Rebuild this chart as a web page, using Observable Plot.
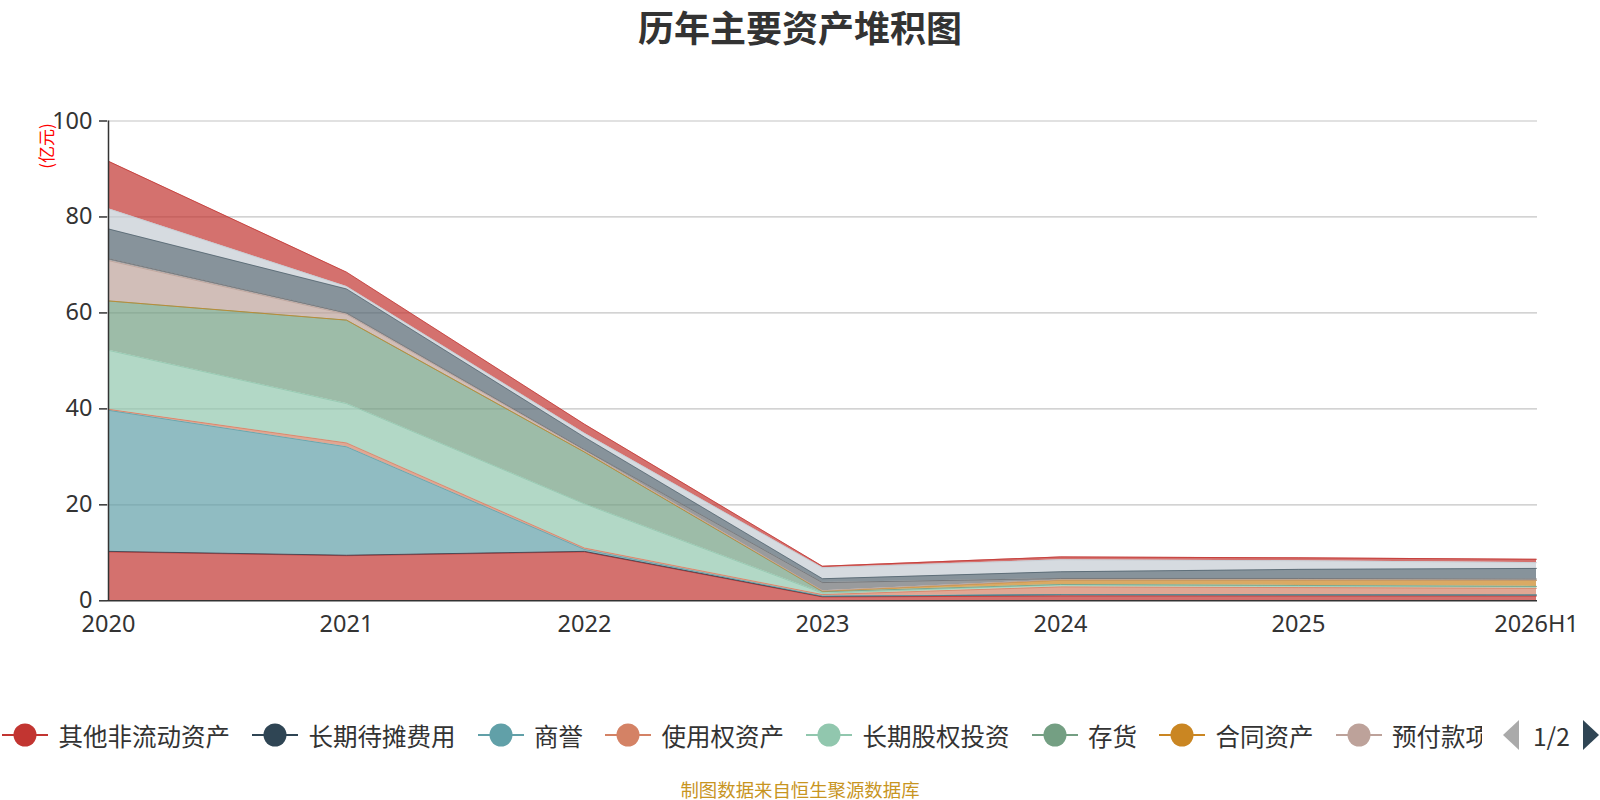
<!DOCTYPE html>
<html>
<head>
<meta charset="utf-8">
<script src="https://cdn.jsdelivr.net/npm/d3@7"></script>
<script src="https://cdn.jsdelivr.net/npm/@observablehq/plot@0.6"></script>
<style>
  body { margin: 0; background: #fff; font-family: "Noto Sans CJK SC", "Noto Sans", sans-serif; color: #333; }
  #wrap { position: relative; width: 1600px; height: 800px; overflow: hidden; }
  #title { position: absolute; left: 0; top: 0; width: 1600px; height: 52px; line-height: 52px; text-align: center; font-size: 36px; font-weight: bold; color: #333; }
  #chart { position: absolute; left: 0; top: 55px; }
  #unit { position: absolute; left: 45px; top: 146px; transform: translate(-50%, -50%) rotate(-90deg); color: #f00; font-size: 17px; white-space: nowrap; }
  #legend { position: absolute; left: 2px; top: 715px; width: 1480px; height: 40px; overflow: hidden; display: flex; align-items: center; white-space: nowrap; }
  .item { display: flex; align-items: center; margin-right: 22px; font-size: 24.5px; color: #333; flex: none; }
  .item svg { margin-right: 10.5px; }
  #pager { position: absolute; left: 1502px; top: 718px; height: 34px; display: flex; align-items: center; font-size: 24.5px; color: #333; }
  #caption { position: absolute; left: 0; top: 776px; width: 1600px; text-align: center; font-size: 18.4px; color: #c8951f; }
</style>
</head>
<body>
<div id="wrap">
  <div id="title">历年主要资产堆积图</div>
  <div id="chart"></div>
  <div id="unit">(亿元)</div>
  <div id="legend"></div>
  <div id="pager">
    <svg width="18" height="30"><path d="M17,0 L1,15 L17,30 Z" fill="#aaa"/></svg>
    <span style="margin:0 12px 0 13px">1/2</span>
    <svg width="18" height="30"><path d="M1,0 L17,15 L1,30 Z" fill="#2f4554"/></svg>
  </div>
  <div id="caption">制图数据来自恒生聚源数据库</div>
</div>
<script>
const years = ["2020", "2021", "2022", "2023", "2024", "2025", "2026H1"]
const names = ["其他非流动资产", "长期待摊费用", "商誉", "使用权资产", "长期股权投资", "存货",
  "合同资产", "预付款项", "应收账款", "固定资产", "无形资产", "货币资金"]
const colors = ["#c23531", "#2f4554", "#61a0a8", "#d48265", "#91c7ae", "#749f83",
  "#ca8622", "#bda29a", "#6e7074", "#546570", "#c4ccd3", "#c23531"]
const yTicks = [0, 20, 40, 60, 80, 100]

// values in 亿元, one array per series, same order as years
const otherNonCurrent = [10.2, 9.4, 10.2, 0.8, 1.0, 1.0, 1.0]
const longPrepaid = [0.1, 0.1, 0.1, 0.1, 0.3, 0.25, 0.2]
const goodwill = [29.4, 22.6, 0.4, 0.1, 0, 0, 0]
const rightOfUse = [0.2, 0.8, 0.3, 0.3, 1.6, 1.5, 1.4]
const equityInvest = [12.3, 8.2, 9.2, 0.3, 0.45, 0.4, 0.35]
const inventory = [10.3, 17.4, 10.8, 0.3, 0.05, 0.05, 0.05]
const contractAssets = [0, 0, 0, 0.1, 0.9, 1.1, 1.25]
const prepayments = [8.4, 1.2, 0.3, 0.1, 0.05, 0.05, 0.05]
const receivables = [0.4, 0.3, 0.2, 1.7, 0.3, 0.3, 0.25]
const fixedAssets = [6.2, 5.0, 2.6, 0.8, 1.4, 1.9, 2.2]
const intangibles = [4.2, 0.5, 0.8, 2.3, 2.5, 1.8, 1.2]
const cash = [9.9, 3.0, 1.9, 0.3, 0.6, 0.6, 0.7]

const series = [otherNonCurrent, longPrepaid, goodwill, rightOfUse, equityInvest, inventory,
  contractAssets, prepayments, receivables, fixedAssets, intangibles, cash]

const rows = []
series.forEach((vals, i) => {
  vals.forEach((v, j) => rows.push({name: names[i], year: years[j], value: v}))
})

const chart = Plot.plot({
  width: 1600,
  height: 620,
  marginTop: 65.5,
  marginBottom: 74.7,
  marginLeft: 107,
  marginRight: 63,
  style: {fontSize: "23.5px", fontFamily: '"Noto Sans", "Noto Sans CJK SC", sans-serif', color: "#333", overflow: "visible"},
  x: {type: "point", domain: years, padding: 0, label: null},
  y: {domain: [0, 100], label: null},
  color: {domain: names, range: colors},
  marks: [
    Plot.gridY(yTicks.slice(1), {stroke: "#c4c4c4", strokeOpacity: 1, strokeWidth: 1.2}),
    Plot.areaY(rows, {x: "year", y: "value", z: "name", fill: "name", fillOpacity: 0.7, order: names}),
    Plot.lineY(rows, Plot.stackY2({x: "year", y: "value", z: "name", stroke: "name", strokeWidth: 1, strokeOpacity: 0.8, order: names})),
    Plot.ruleX([years[0]], {y1: 0, y2: 100, stroke: "#333", strokeWidth: 1.5}),
    Plot.ruleY([0], {stroke: "#333", strokeWidth: 1.5}),
    Plot.axisY({ticks: yTicks, tickSize: 8, tickPadding: 7, stroke: "#333", strokeWidth: 1.5, label: null}),
    Plot.axisX({tickSize: 0, tickPadding: 15, label: null})
  ]
})
d3.select("#chart").append(() => chart)

const legend = d3.select("#legend")
names.forEach((n, i) => {
  const item = legend.append("div").attr("class", "item")
  const svg = item.append("svg").attr("width", 46).attr("height", 26)
  svg.append("line").attr("x1", 0).attr("x2", 46).attr("y1", 13).attr("y2", 13)
    .attr("stroke", colors[i]).attr("stroke-width", 2)
  svg.append("circle").attr("cx", 23).attr("cy", 13).attr("r", 11.5).attr("fill", colors[i])
  item.append("span").text(n)
})
</script>
</body>
</html>
